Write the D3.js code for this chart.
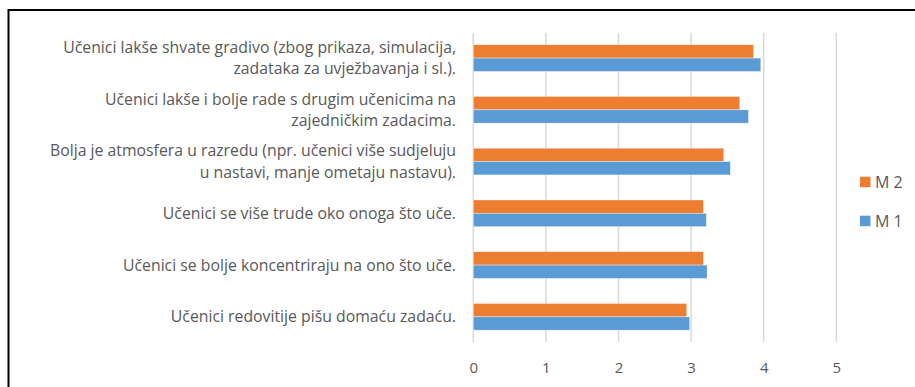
<!DOCTYPE html>
<html>
<head>
<meta charset="utf-8">
<script src="https://cdn.jsdelivr.net/npm/d3@7"></script>
<style>
  html, body { margin: 0; padding: 0; background: #fff; }
  svg { display: block; }
  text { font-family: "Open Sans", Lato, sans-serif; fill: #595959; }
</style>
</head>
<body>
<svg id="chart" width="915" height="387"></svg>
<script>
// Survey statements (top to bottom), each split into its display lines
const categories = [
  ["Učenici lakše shvate gradivo (zbog prikaza, simulacija,", "zadataka za uvježbavanja i sl.)."],
  ["Učenici lakše i bolje rade s drugim učenicima na", "zajedničkim zadacima."],
  ["Bolja je atmosfera u razredu (npr. učenici više sudjeluju", "u nastavi, manje ometaju nastavu)."],
  ["Učenici se više trude oko onoga što uče."],
  ["Učenici se bolje koncentriraju na ono što uče."],
  ["Učenici redovitije pišu domaću zadaću."]
];
const seriesNames = ["M 2", "M 1"];
const m2Values = [3.86, 3.67, 3.45, 3.17, 3.17, 2.94];
const m1Values = [3.96, 3.79, 3.54, 3.21, 3.22, 2.98];
const tickValues = [0, 1, 2, 3, 4, 5];
const colors = { "M 2": "#ED7D31", "M 1": "#5B9BD5" };

const svg = d3.select("#chart");
const keys = categories.map((c, i) => "c" + i);

const x = d3.scaleLinear().domain([0, 5]).range([473.3, 836.3]);
const y = d3.scaleBand().domain(keys).range([32.2, 342.7])
  .paddingInner(0.484).paddingOuter(0.242);
const sub = d3.scaleBand().domain(seriesNames).range([0, y.bandwidth()]);

// Frame around the chart
svg.append("path")
  .attr("d", "M8.5,400V10H920")
  .attr("fill", "none").attr("stroke", "#000").attr("stroke-width", 2);

// Vertical gridlines
svg.append("g").selectAll("line").data(tickValues).join("line")
  .attr("x1", d => x(d)).attr("x2", d => x(d))
  .attr("y1", 33).attr("y2", 342)
  .attr("stroke", "#d9d9d9").attr("stroke-width", 1.5);

// Bottom axis tick labels
const axis = svg.append("g").attr("transform", "translate(0,342)")
  .call(d3.axisBottom(x).tickValues(tickValues).tickSize(0).tickPadding(0).tickFormat(d3.format("d")));
axis.select(".domain").remove();
axis.selectAll("text")
  .attr("y", 30.5).attr("dy", null)
  .style("font-size", "15px").style("font-family", "'Open Sans', sans-serif").attr("fill", "#595959");

// Bars
const rows = categories.map((c, i) => ({
  key: keys[i],
  values: [{ s: "M 2", v: m2Values[i] }, { s: "M 1", v: m1Values[i] }]
}));
const groups = svg.append("g").selectAll("g").data(rows).join("g")
  .attr("transform", d => `translate(0,${y(d.key)})`);
groups.selectAll("rect").data(d => d.values).join("rect")
  .attr("x", x(0))
  .attr("y", d => sub(d.s))
  .attr("width", d => x(d.v) - x(0))
  .attr("height", sub.bandwidth())
  .attr("fill", d => colors[d.s])
  .attr("stroke", "#fff").attr("stroke-width", 0.6).attr("stroke-opacity", 0.6);

// Category labels, one text element per line
const lineH = 21.6;
const labelLines = [];
categories.forEach((lines, i) => {
  const cy = y(keys[i]) + y.bandwidth() / 2;
  const first = cy - (lines.length - 1) * lineH / 2 + 5.5;
  lines.forEach((t, j) => labelLines.push({ t, y: first + j * lineH }));
});
svg.append("g").selectAll("text").data(labelLines).join("text")
  .attr("text-anchor", "end")
  .attr("x", 456)
  .attr("y", d => d.y)
  .style("font-size", "15.8px")
  .text(d => d.t);

// Legend
const legend = svg.append("g").selectAll("g").data(seriesNames).join("g")
  .attr("transform", (d, i) => `translate(860,${176.7 + i * 39})`);
legend.append("rect").attr("width", 10.5).attr("height", 10.5)
  .attr("fill", d => colors[d]);
legend.append("text").attr("x", 15).attr("y", 10.8)
  .style("font-size", "16px").text(d => d);
</script>
</body>
</html>
